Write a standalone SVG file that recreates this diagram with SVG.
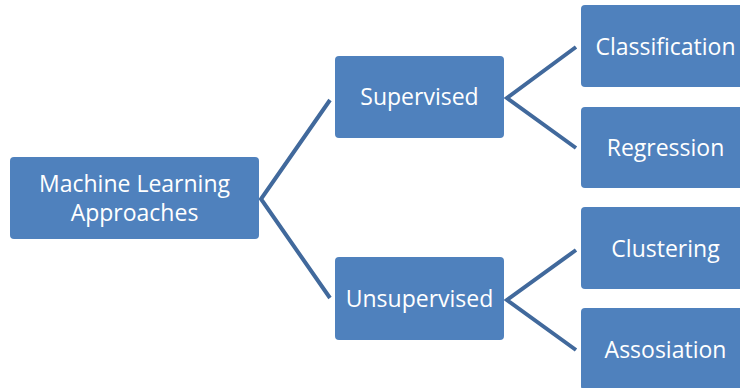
<svg xmlns="http://www.w3.org/2000/svg" width="740" height="388" viewBox="0 0 740 388">
<style>
.box{fill:#4F81BD;}
.lbl{font-family:"Open Sans","Noto Sans",sans-serif;font-size:23px;fill:#FFFFFF;text-anchor:middle;}
.conn{fill:none;stroke:#41699C;stroke-width:4;stroke-linejoin:miter;}
</style>
<rect width="740" height="388" fill="#FFFFFF"/>
<g id="connectors">
<polyline class="conn" points="330,100 261,199 330,298"/>
<polyline class="conn" points="576,47 507,98 576,148"/>
<polyline class="conn" points="576,250 507,300 576,350"/>
</g>
<g id="root">
<rect class="box" x="10" y="157" width="249" height="82" rx="4"/>
<text class="lbl" x="134.5" y="192">Machine Learning</text>
<text class="lbl" x="134.5" y="221">Approaches</text>
</g>
<g id="supervised">
<rect class="box" x="335" y="56" width="169" height="82" rx="4"/>
<text class="lbl" x="419.5" y="105">Supervised</text>
</g>
<g id="unsupervised">
<rect class="box" x="335" y="257" width="169" height="83" rx="4"/>
<text class="lbl" x="419.5" y="307">Unsupervised</text>
</g>
<g id="classification">
<rect class="box" x="581" y="5" width="169" height="82" rx="4"/>
<text class="lbl" x="665.5" y="55">Classification</text>
</g>
<g id="regression">
<rect class="box" x="581" y="107" width="169" height="81" rx="4"/>
<text class="lbl" x="665.5" y="156">Regression</text>
</g>
<g id="clustering">
<rect class="box" x="581" y="207" width="169" height="82" rx="4"/>
<text class="lbl" x="665.5" y="257">Clustering</text>
</g>
<g id="assosiation">
<rect class="box" x="581" y="308" width="169" height="82" rx="4"/>
<text class="lbl" x="665.5" y="358">Assosiation</text>
</g>
</svg>
